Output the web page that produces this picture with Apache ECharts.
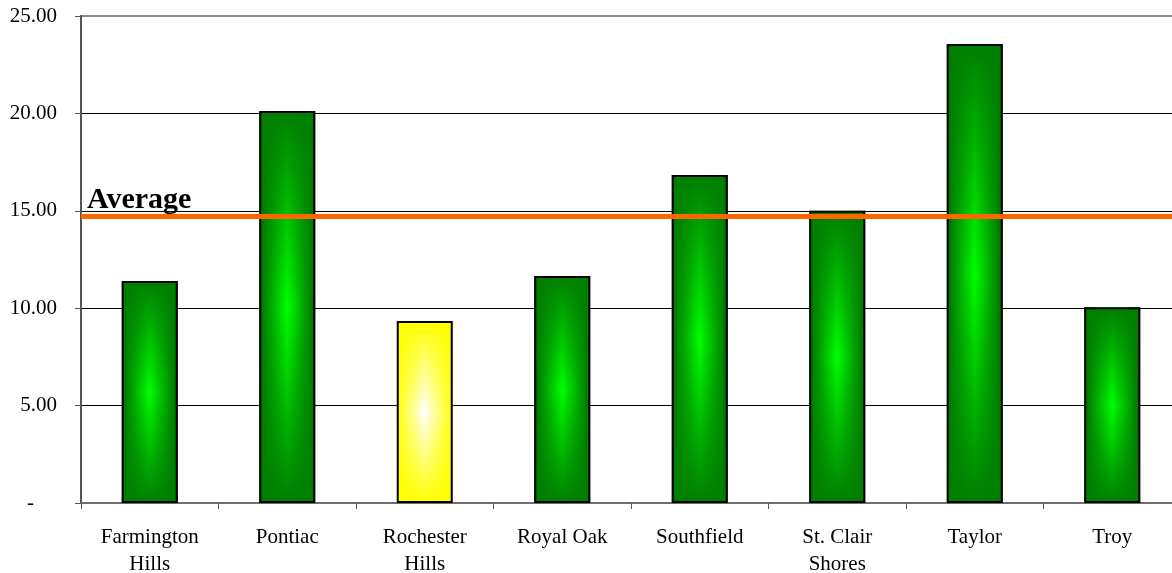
<!DOCTYPE html>
<html>
<head>
<meta charset="utf-8">
<style>
  html, body { margin: 0; padding: 0; background: #ffffff; }
  #chart { width: 1172px; height: 573px; }
</style>
<script src="https://cdn.jsdelivr.net/npm/echarts@6/dist/echarts.min.js"></script>
</head>
<body>
<div id="chart"></div>
<script>
// Cities along the category axis (line breaks as printed under the axis)
const cities = ['Farmington\nHills', 'Pontiac', 'Rochester\nHills', 'Royal Oak',
                'Southfield', 'St. Clair\nShores', 'Taylor', 'Troy'];
// Value per city
const values = [11.40, 20.12, 9.34, 11.65, 16.84, 15.00, 23.56, 10.05];
// City drawn in yellow instead of green
const highlighted = 'Rochester\nHills';
// Value-axis range
const yMin = 0, yMax = 25, yStep = 5;

const average = values.reduce((a, b) => a + b, 0) / values.length;
const serif = '"Liberation Serif", "Times New Roman", "DejaVu Serif", serif';

function hGradient(edge, mid) {
  return new echarts.graphic.LinearGradient(0, 0, 1, 0, [
    { offset: 0, color: edge },
    { offset: 0.5, color: mid },
    { offset: 1, color: edge }
  ]);
}
function vShade(rgb) {
  return new echarts.graphic.LinearGradient(0, 0, 0, 1, [
    { offset: 0, color: 'rgba(' + rgb + ',1)' },
    { offset: 0.5, color: 'rgba(' + rgb + ',0)' },
    { offset: 1, color: 'rgba(' + rgb + ',1)' }
  ]);
}

// Base layer: side-to-centre glow
const baseData = values.map((v, i) => ({
  value: v,
  itemStyle: {
    color: cities[i] === highlighted ? hGradient('#ffff00', '#ffffff') : hGradient('#006a00', '#00ff00')
  }
}));
// Top layer: darkening toward the top and bottom ends, with the outline
const shadeData = values.map((v, i) => ({
  value: v,
  itemStyle: {
    color: cities[i] === highlighted ? vShade('255,255,0') : vShade('0,126,0')
  }
}));

const chart = echarts.init(document.getElementById('chart'), null, { renderer: 'canvas' });
chart.setOption({
  animation: false,
  grid: {
    left: 81, top: 16, width: 1100, height: 487,
    containLabel: false, outerBoundsMode: 'none',
    show: true, borderColor: '#8a8a8a', borderWidth: 2, backgroundColor: 'transparent'
  },
  xAxis: {
    type: 'category',
    data: cities,
    axisLine: { lineStyle: { color: '#6e6e6e', width: 2 } },
    axisTick: { show: true, length: 6, lineStyle: { color: '#555', width: 1 } },
    axisLabel: {
      color: '#000', fontFamily: serif, fontSize: 21, lineHeight: 27,
      margin: 21, interval: 0
    }
  },
  yAxis: {
    type: 'value',
    min: yMin, max: yMax, interval: yStep,
    axisLine: { show: true, lineStyle: { color: '#555', width: 2 } },
    axisTick: { show: true, length: 6, lineStyle: { color: '#555', width: 1 } },
    axisLabel: {
      color: '#000', fontFamily: serif, fontSize: 21, margin: 24,
      formatter: v => (v === 0 ? '{dash|-}' : v.toFixed(2)),
      rich: {
        dash: { color: '#000', fontFamily: serif, fontSize: 21, padding: [0, 23, 0, 0] }
      }
    },
    splitLine: {
      show: true,
      lineStyle: { color: ['#000', '#000', '#000', '#000', '#000', '#8a8a8a'], width: 1 }
    }
  },
  series: [
    {
      type: 'bar',
      data: baseData,
      barWidth: 56,
      barGap: '-100%',
      silent: true
    },
    {
      type: 'bar',
      data: shadeData,
      barWidth: 56,
      barGap: '-100%',
      silent: true,
      itemStyle: { borderColor: '#000', borderWidth: 2 },
      markLine: {
        silent: true,
        symbol: 'none',
        data: [{ yAxis: average }],
        lineStyle: { color: '#ff6600', width: 5, type: 'solid' },
        label: {
          show: true,
          position: 'insideStartTop',
          formatter: 'Average',
          color: '#000',
          fontFamily: serif,
          fontWeight: 'bold',
          fontSize: 30,
          lineHeight: 30,
          distance: [6, 1]
        },
        emphasis: { disabled: true }
      }
    }
  ]
});
</script>
</body>
</html>
